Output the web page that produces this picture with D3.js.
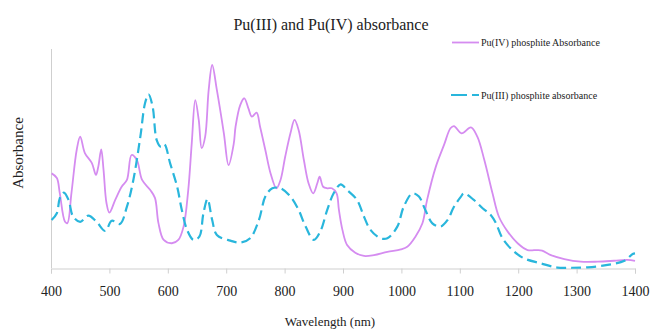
<!DOCTYPE html>
<html><head><meta charset="utf-8">
<script src="https://cdn.jsdelivr.net/npm/d3@7"></script>
<style>body{margin:0;background:#fff}svg{display:block}text{font-family:"Liberation Serif","Times New Roman",Times,serif;fill:#222}</style>
</head><body><svg id="c" width="654" height="331"></svg>
<script>
const xTicks=[400,500,600,700,800,900,1000,1100,1200,1300,1400];
const puIVwl=[401,410,415,424,428,435,444,450,458,470,477,481,486,490,495,500,510,521,530,538,547,556,570,578,584,593,607,618,627,635,641,647,653,658,664,670,676,684,696,704,713,716,724,731,738,744,752,758,767,776,786,793,801,810,817,824,833,841,849,856,860,866,873,881,889,893,899,907,921,936,953,976,999,1010,1024,1036,1044,1059,1073,1084,1090,1103,1119,1130,1142,1156,1167,1182,1199,1216,1233,1241,1256,1279,1307,1336,1364,1387,1400];
const puIVabs=[0.432,0.411,0.342,0.211,0.205,0.342,0.539,0.600,0.525,0.479,0.425,0.463,0.542,0.447,0.297,0.253,0.311,0.371,0.402,0.516,0.493,0.402,0.356,0.320,0.205,0.128,0.113,0.128,0.189,0.356,0.569,0.767,0.676,0.547,0.600,0.813,0.927,0.813,0.615,0.470,0.569,0.645,0.744,0.775,0.729,0.691,0.709,0.645,0.539,0.432,0.364,0.402,0.508,0.615,0.676,0.630,0.493,0.387,0.341,0.387,0.417,0.371,0.364,0.364,0.341,0.265,0.174,0.105,0.070,0.055,0.059,0.074,0.085,0.097,0.143,0.204,0.311,0.463,0.562,0.638,0.648,0.615,0.642,0.600,0.493,0.341,0.234,0.166,0.113,0.082,0.082,0.079,0.059,0.041,0.029,0.029,0.033,0.037,0.032];
const puIIIwl=[401,410,415,422,430,438,450,464,478,493,504,518,530,541,553,561,567,574,581,588,594,604,616,624,633,644,654,661,668,676,684,707,724,741,756,767,779,793,810,824,836,850,861,873,884,896,907,924,936,947,964,976,993,1004,1019,1030,1041,1053,1067,1079,1090,1102,1107,1124,1139,1153,1162,1173,1190,1210,1239,1267,1290,1319,1353,1382,1396,1400];
const puIIIabs=[0.219,0.250,0.318,0.344,0.311,0.234,0.211,0.239,0.211,0.169,0.216,0.201,0.280,0.402,0.600,0.752,0.793,0.737,0.584,0.554,0.566,0.478,0.371,0.265,0.174,0.128,0.143,0.250,0.315,0.219,0.151,0.125,0.116,0.136,0.219,0.326,0.364,0.364,0.326,0.265,0.189,0.128,0.166,0.265,0.341,0.382,0.356,0.311,0.234,0.174,0.136,0.136,0.189,0.280,0.341,0.326,0.265,0.204,0.189,0.219,0.280,0.326,0.341,0.311,0.273,0.242,0.204,0.136,0.082,0.044,0.021,0.002,0.001,0.003,0.014,0.033,0.064,0.067];
const seriesNames=["Pu(IV) phosphite Absorbance","Pu(III) phosphite absorbance"];

const svg=d3.select("#c");
const x=d3.scaleLinear().domain([400,1400]).range([51,635]);
const y=d3.scaleLinear().domain([0,1]).range([268,49]);
const purple="#d58cf0", cyan="#29b6dc";

// axes
svg.append("line").attr("x1",51.5).attr("x2",51.5).attr("y1",49).attr("y2",268).attr("stroke","#cfcfcf");
const gx=svg.append("g").attr("transform","translate(0,268.5)").call(d3.axisBottom(x).tickValues(xTicks).tickSize(5).tickPadding(13).tickFormat(d3.format("d")));
gx.attr("font-family",null).attr("font-size",null);
gx.select(".domain").attr("stroke","#cfcfcf");
gx.selectAll(".tick line").attr("stroke","#cfcfcf");
gx.selectAll(".tick text").style("font-family","'Liberation Serif','Times New Roman',serif").style("font-size","14px").attr("fill","#222");

const line=d3.line().x(d=>x(d[0])).y(d=>y(d[1])).curve(d3.curveCatmullRom.alpha(0.5));
svg.append("path").attr("d",line(puIVwl.map((w,i)=>[w,puIVabs[i]]))).attr("fill","none").attr("stroke",purple).attr("stroke-width",1.8);
svg.append("path").attr("d",line(puIIIwl.map((w,i)=>[w,puIIIabs[i]]))).attr("fill","none").attr("stroke",cyan).attr("stroke-width",2.2).attr("stroke-dasharray","10,5");

// title & labels
svg.append("text").attr("x",331).attr("y",30).attr("text-anchor","middle").style("font-size","16px").text("Pu(III) and Pu(IV) absorbance");
svg.append("text").attr("x",330).attr("y",326).attr("text-anchor","middle").style("font-size","13px").text("Wavelength (nm)");
svg.append("text").attr("transform","translate(23,153) rotate(-90)").attr("text-anchor","middle").style("font-size","15px").text("Absorbance");

// legend
svg.append("line").attr("x1",452).attr("x2",479).attr("y1",42.5).attr("y2",42.5).attr("stroke",purple).attr("stroke-width",1.8);
svg.append("text").attr("x",481).attr("y",46).style("font-size","10px").text(seriesNames[0]);
svg.append("line").attr("x1",451).attr("x2",479).attr("y1",95).attr("y2",95).attr("stroke",cyan).attr("stroke-width",2.2).attr("stroke-dasharray","16,5");
svg.append("text").attr("x",481).attr("y",98.5).style("font-size","10px").text(seriesNames[1]);
</script></body></html>
